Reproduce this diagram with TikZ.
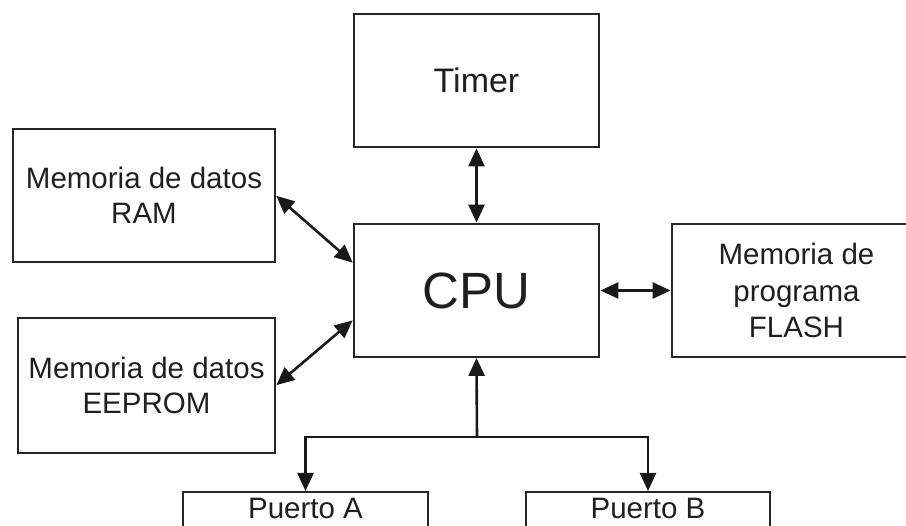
\documentclass[tikz,border=0pt]{standalone}
\usepackage{fontspec}
\setmainfont{Liberation Sans}
\usetikzlibrary{arrows.meta,calc}
\begin{document}
\begin{tikzpicture}[x=1pt,y=-1pt,
  box/.style={draw=black!85, line width=1.8pt, inner sep=0pt, align=center, text=black!88},
  memtext/.style={font=\fontsize{29.5}{35}\selectfont},
  tip/.tip={Triangle[length=18pt,width=16pt]},
  conn/.style={line width=2.6pt, black!90, {tip}-{tip}, shorten <=0.5pt, shorten >=0.5pt},
  one/.style={line width=2.6pt, black!90, -{tip}}]
\useasboundingbox (0,0) rectangle (906,526);
\node[box, minimum width=245pt, minimum height=133pt, font=\fontsize{34}{38}\selectfont] (timer) at (476.5,80.5) {Timer};
\node[box, minimum width=245pt, minimum height=133pt, font=\fontsize{51}{56}\selectfont] (cpu) at (476.5,290.5) {CPU};
\node[box, memtext, minimum width=262pt, minimum height=133pt] (ram) at (144,195.5) {Memoria de datos\\RAM};
\node[box, memtext, minimum width=257pt, minimum height=135pt] (eeprom) at (146.5,385.5) {Memoria de datos\\EEPROM};
\node[box, memtext, minimum width=249pt, minimum height=133pt, font=\fontsize{29.5}{36.5}\selectfont] (flash) at (796.5,290.5) {Memoria de\\programa\\FLASH};
\node[box, memtext, minimum width=245pt, minimum height=49pt, text depth=16pt, anchor=north] (pa) at (305.5,491) {Puerto A};
\node[box, memtext, minimum width=244pt, minimum height=49pt, text depth=16pt, anchor=north] (pb) at (648,491) {Puerto B};
\coordinate (hub) at (477,437);
\draw[conn] (timer.south) -- (cpu.north);
\draw[conn] (ram.east) -- ([yshift=27.5pt]cpu.west);
\draw[conn] (eeprom.east) -- ([yshift=-29.5pt]cpu.west);
\draw[conn] (cpu.east) -- (flash.west);
\draw[one] (hub) -- (cpu.south);
\draw[one] (hub) -| (pa.north);
\draw[one] (hub) -| (pb.north);
\end{tikzpicture}
\end{document}
